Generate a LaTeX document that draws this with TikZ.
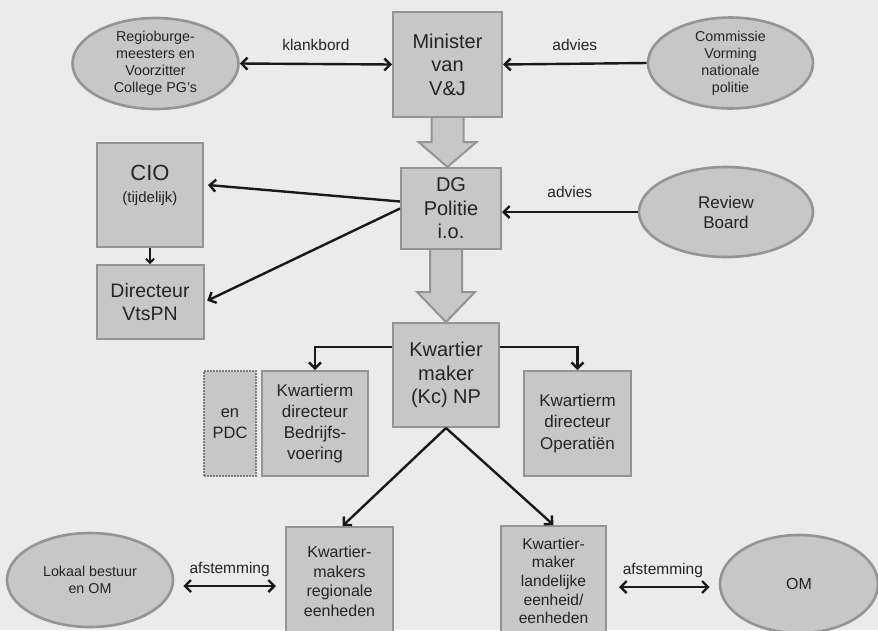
\documentclass[tikz,border=0pt]{standalone}
\usepackage{fontspec}
\setmainfont{Liberation Sans}
\usetikzlibrary{shapes.geometric,arrows.meta,calc}

\definecolor{bggray}{rgb}{0.92,0.92,0.92}
\definecolor{boxgray}{rgb}{0.78,0.78,0.78}
\definecolor{linegray}{rgb}{0.58,0.58,0.58}
\definecolor{inkgray}{rgb}{0.14,0.14,0.14}
\newcommand{\txtsize}[2]{\fontsize{#1}{#2}\selectfont}

\begin{document}
\begin{tikzpicture}[x=1pt,y=-1pt,
        box/.style={draw=linegray, fill=boxgray, line width=2pt, align=center, inner sep=0pt, text=inkgray},
        oval/.style={ellipse, draw=linegray, fill=boxgray, line width=2.6pt, align=center, inner sep=0pt, text=inkgray},
        lbl/.style={inner sep=0pt, text=inkgray, font=\txtsize{15.5}{18}},
        link/.style={draw=black!90, line width=2.4pt},
        fatarrow/.style={draw=linegray, fill=boxgray, line width=2pt, line join=miter},
        >={Straight Barb[length=6pt,width=12pt]}]
        \clip (0,0) rectangle (878,630);
        \fill[bggray] (0,0) rectangle (878,630);

        \node[oval, minimum width=166pt, minimum height=91pt, font=\txtsize{14.3}{17}] (regio) at (155.5,63.5) {Regioburge-\\meesters en\\Voorzitter\\College PG’s};
        \node[oval, minimum width=165pt, minimum height=90pt, font=\txtsize{14.3}{17}] (commissie) at (730.5,63) {Commissie\\Vorming\\nationale\\politie};
        \node[oval, minimum width=174pt, minimum height=90pt, font=\txtsize{17}{20}] (review) at (726,212) {Review\\Board};
        \node[oval, minimum width=166pt, minimum height=94pt, font=\txtsize{14.3}{17}] (lokaal) at (90,580) {Lokaal bestuur\\en OM};
        \node[oval, minimum width=158pt, minimum height=98pt, font=\txtsize{16}{19}] (om) at (799,584) {OM};

        \node[box, minimum width=109pt, minimum height=105pt, font=\txtsize{20}{23.5}] (minister) at (447.5,64.5) {Minister\\van\\V\&J};
        \node[box, minimum width=100pt, minimum height=81pt, font=\txtsize{20}{23.5}] (dg) at (451,208.5) {DG\\Politie\\i.o.};
        \node[box, minimum width=106pt, minimum height=104pt, font=\txtsize{20}{23.5}] (kw) at (446,375) {Kwartier\\maker\\(Kc) NP};
        \node[box, minimum width=106pt, minimum height=104pt] (cio) at (150,195) {};
        \node[align=center, anchor=north, inner sep=0pt, text=inkgray, font=\txtsize{15}{22}] (ciotxt) at (150,165) {{\txtsize{22}{22}CIO}\\(tijdelijk)};
        \node[box, minimum width=107pt, minimum height=74pt, font=\txtsize{19.5}{23.5}] (vtspn) at (150,302) {Directeur\\VtsPN};

        \node[box, draw=linegray!85!black, densely dotted, line width=2.5pt, minimum width=52pt, minimum height=105pt, font=\txtsize{16.5}{21}] (pdc) at (230,423.5) {en\\PDC};      % dotted
        \node[box, minimum width=106pt, minimum height=105pt, font=\txtsize{17}{21}] (bedrijf) at (315,423.5) {Kwartierm\\directeur\\Bedrijfs-\\voering};
        \node[box, minimum width=107pt, minimum height=105pt, font=\txtsize{17}{21.5}] (oper) at (577.5,423.5) {Kwartierm\\directeur\\Operatiën};
        \node[box, minimum width=107pt, minimum height=109pt, font=\txtsize{16}{19.5}] (regionaal) at (339.5,581.5) {Kwartier-\\makers\\regionale\\eenheden};
        \node[box, minimum width=105pt, minimum height=110pt, font=\txtsize{15.6}{18.7}] (landelijk) at (553.5,581) {Kwartier-\\maker\\landelijke\\eenheid/\\eenheden};

        % fat arrows
        \draw[fatarrow] let \p1=(minister.south), \p2=(dg.north) in
            (\x1-16pt,\y1) -- (\x1-16pt,\y2+25pt) -- (\x1-29pt,\y2+25pt) -- (\x1,\y2) -- (\x1+29pt,\y2+25pt) -- (\x1+16pt,\y2+25pt) -- (\x1+16pt,\y1);
        \draw[fatarrow] let \p1=(dg.south), \p2=(kw.north) in
            (\x2-16pt,\y1) -- (\x2-16pt,\y2+30pt) -- (\x2-29pt,\y2+30pt) -- (\x2,\y2) -- (\x2+29pt,\y2+30pt) -- (\x2+16pt,\y2+30pt) -- (\x2+16pt,\y1);

        \draw[link,<->] (regio.east) -- node[lbl, above=12pt] (klank) {klankbord} (minister.west);
        \draw[link,->] (commissie.west) -- node[lbl, above=12pt] (advies1) {advies} (minister.east);
        \draw[link,->] (review.west) -- node[lbl, above=13pt] (advies2) {advies} (review.west -| dg.east);

        \draw[link,->] ([yshift=7pt]dg.west) -- ([xshift=4pt,yshift=10pt]cio.east);
        \draw[link,->, shorten >=3pt] (dg.west) -- (vtspn.east);
        \draw[link,->,>={Straight Barb[length=4pt,width=8pt]}, line width=1.8pt] (cio.south) -- (vtspn.north);

        \draw[link,->] ([yshift=28pt]kw.west) -| (bedrijf.north);
        \draw[link,->] ([yshift=28pt]kw.east) -| (oper.north);
        \draw[link,->] (kw.south) -- ([xshift=3pt]regionaal.north);
        \draw[link,->] (kw.south) -- (landelijk.north);

        \draw[link,<->, shorten <=9pt, shorten >=9pt] ([yshift=-6pt]lokaal.east) -- node[lbl, above=8pt] (afst1) {afstemming} ([yshift=-6pt]lokaal.east -| regionaal.west);
        \draw[link,<->, shorten <=12pt, shorten >=9pt] ([yshift=-3pt]om.west -| landelijk.east) -- node[lbl, above=8pt] (afst2) {afstemming} ([yshift=-3pt]om.west);

    \end{tikzpicture}
\end{document}
